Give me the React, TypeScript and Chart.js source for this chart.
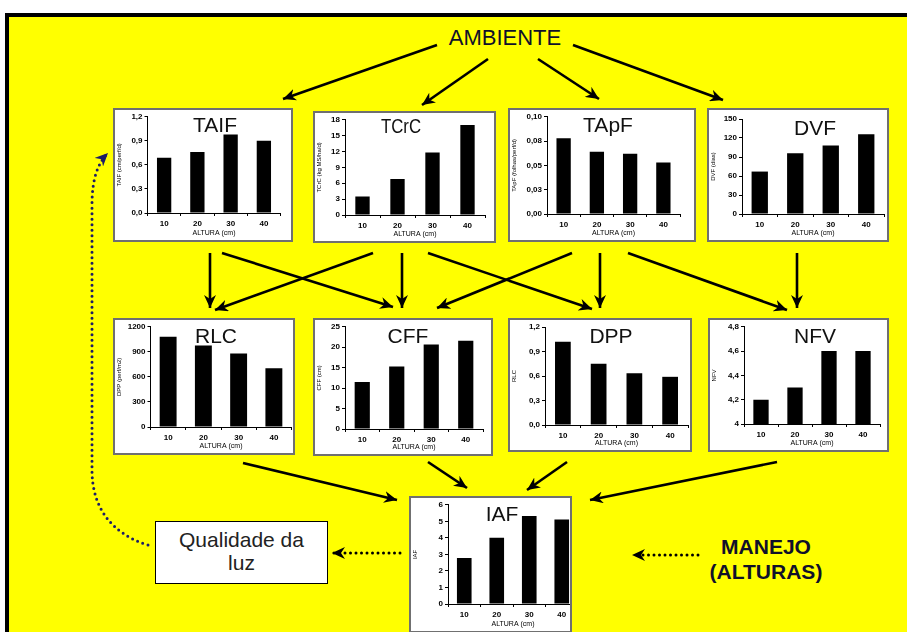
import React, { useEffect, useRef } from "react";
import { Chart, registerables } from "chart.js";
Chart.register(...registerables);

// ---------- data ----------
const alturas = ["10", "20", "30", "40"];
const taifValues = [0.69, 0.76, 0.98, 0.9];
const tcrcValues = [3.5, 6.8, 11.8, 17.0];
const tapfValues = [0.078, 0.064, 0.062, 0.053];
const dvfValues = [67, 96, 108, 126];
const rlcValues = [1080, 975, 880, 705];
const cffValues = [11.5, 15.3, 20.7, 21.6];
const dppValues = [1.02, 0.75, 0.635, 0.59];
const nfvValues = [4.2, 4.3, 4.6, 4.6];
const iafValues = [2.78, 4.01, 5.33, 5.11];

const xAxisTitle = "ALTURA (cm)";
const FONT = "'Liberation Sans', Arial, Helvetica, sans-serif";

type Spec = {
  title: string;
  yTitle: string;
  values: number[];
  min: number;
  max: number;
  step: number;
  dec: number | null;
  box: [number, number, number, number];
  plot: [number, number, number, number];
  bar: number;
  tx: number;
  tcap: number;
  tscale?: number;
  extraW?: number;
};

const specs: Spec[] = [
  { title: "TAIF", yTitle: "TAIF (cm/perf/d)", values: taifValues, min: 0, max: 1.2, step: 0.3, dec: 1,
    box: [113, 108, 180, 134], plot: [147.5, 115, 280.5, 213], bar: 0.43, tx: 215, tcap: 117 },
  { title: "TCrC", yTitle: "TCrC (kg MS/ha/d)", values: tcrcValues, min: 0, max: 18, step: 3, dec: 0,
    box: [313, 111, 183, 132], plot: [345, 118, 485, 215], bar: 0.41, tx: 401, tcap: 118, tscale: 0.8 },
  { title: "TApF", yTitle: "TApF (folhas/perf/d)", values: tapfValues, min: 0, max: 0.1, step: 0.025, dec: 2,
    box: [508, 108, 188, 134], plot: [547, 116, 680, 214], bar: 0.43, tx: 608, tcap: 117 },
  { title: "DVF", yTitle: "DVF (dias)", values: dvfValues, min: 0, max: 150, step: 30, dec: 0,
    box: [707, 108, 182, 134], plot: [742, 119, 884, 214], bar: 0.46, tx: 815, tcap: 120 },
  { title: "RLC", yTitle: "DPP (perf/m2)", values: rlcValues, min: 0, max: 1200, step: 300, dec: 0,
    box: [113, 318, 182, 137], plot: [150.5, 326, 291.5, 427], bar: 0.48, tx: 216, tcap: 328 },
  { title: "CFF", yTitle: "CFF (cm)", values: cffValues, min: 0, max: 25, step: 5, dec: 0,
    box: [313, 318, 180, 138], plot: [345, 326, 483, 429], bar: 0.44, tx: 408, tcap: 328 },
  { title: "DPP", yTitle: "RLC", values: dppValues, min: 0, max: 1.2, step: 0.3, dec: 1,
    box: [508, 318, 184, 134], plot: [545, 327, 688, 425], bar: 0.44, tx: 611, tcap: 328 },
  { title: "NFV", yTitle: "NFV", values: nfvValues, min: 4, max: 4.8, step: 0.2, dec: null,
    box: [708, 318, 181, 134], plot: [744, 323, 880, 424], bar: 0.45, tx: 815, tcap: 328 },
  { title: "IAF", yTitle: "IAF", values: iafValues, min: 0, max: 6, step: 1, dec: 0,
    box: [409, 496, 163, 137], plot: [448, 503, 578, 604], bar: 0.45, tx: 502, tcap: 506, extraW: 8 },
];

function fmt(v: number, dec: number | null) {
  let s: string;
  if (dec === null) s = String(Math.round(v * 10 + 1e-9) / 10);
  else {
    const p = Math.pow(10, dec);
    s = (Math.round(v * p + 1e-9) / p).toFixed(dec);
  }
  return s.replace(".", ",");
}

const BORDER = 2;

function Panel({ spec }: { spec: Spec }) {
  const ref = useRef<HTMLCanvasElement | null>(null);
  const [bx, by, bw, bh] = spec.box;
  const [pl, pt, pr, pb] = spec.plot;
  const innerL = bx + BORDER;
  const innerT = by + BORDER;
  const cw = Math.max(bw - 2 * BORDER, Math.ceil(pr - innerL + (spec.extraW || 0)));
  const ch = bh - 2 * BORDER;
  const yW = pl - innerL;
  const padTop = pt - innerT;
  const padRight = cw - (pr - innerL);
  const xH = ch - (pb - innerT);

  useEffect(() => {
    const c = ref.current;
    if (!c) return;
    const chart = new Chart(c, {
      type: "bar",
      data: {
        labels: alturas,
        datasets: [
          {
            data: spec.values,
            backgroundColor: "#000",
            borderWidth: 0,
            barPercentage: spec.bar,
            categoryPercentage: 1,
          },
        ],
      },
      options: {
        animation: false,
        responsive: false,
        devicePixelRatio: 1,
        layout: { padding: { left: 0, top: padTop, right: padRight, bottom: 0 } },
        plugins: { legend: { display: false }, tooltip: { enabled: false }, title: { display: false } },
        scales: {
          x: {
            grid: { display: true, drawOnChartArea: false, drawTicks: true, tickLength: 3, color: "#000", offset: true },
            border: { display: true, color: "#000", width: 1 },
            ticks: { color: "#000", font: { family: FONT, size: 8, weight: "bold" }, padding: 3, maxRotation: 0 },
            title: {
              display: true,
              text: xAxisTitle,
              color: "#000",
              font: { family: FONT, size: 7 },
              padding: { top: 0, bottom: 3 },
            },
            afterFit: (s: any) => {
              s.height = xH;
            },
          },
          y: {
            min: spec.min,
            max: spec.max,
            grid: { display: true, drawOnChartArea: false, drawTicks: true, tickLength: 3, color: "#000" },
            border: { display: true, color: "#000", width: 1 },
            ticks: {
              stepSize: spec.step,
              color: "#000",
              font: { family: FONT, size: 8, weight: "bold" },
              padding: 2,
              callback: (v: any) => fmt(Number(v), spec.dec),
            },
            title: {
              display: true,
              text: spec.yTitle,
              color: "#000",
              font: { family: FONT, size: 6 },
              padding: { top: 1, bottom: 1 },
            },
            afterFit: (s: any) => {
              s.width = yW;
            },
          },
        },
      } as any,
    });
    return () => chart.destroy();
  }, []);

  return (
    <div
      style={{
        position: "absolute",
        left: bx,
        top: by,
        width: bw,
        height: bh,
        background: "#fff",
        border: `${BORDER}px solid #707070`,
        boxSizing: "border-box",
        overflow: "hidden",
      }}
    >
      <canvas ref={ref} width={cw} height={ch} style={{ position: "absolute", left: 0, top: 0, display: "block" }} />
    </div>
  );
}

function PanelTitle({ spec }: { spec: Spec }) {
  const size = 21;
  return (
    <div
      style={{
        position: "absolute",
        left: spec.tx,
        top: spec.tcap - 0.13 * size,
        transform: `translateX(-50%) scaleX(${spec.tscale || 1})`,
        fontFamily: FONT,
        fontSize: size,
        lineHeight: 1,
        color: "#111",
        whiteSpace: "nowrap",
        pointerEvents: "none",
      }}
    >
      {spec.title}
    </div>
  );
}

const solidArrows: [number, number, number, number][] = [
  [437, 45, 283, 99],
  [488, 59, 422, 105],
  [538, 59, 599, 99],
  [573, 45, 723, 100],
  [210, 253, 210, 308],
  [222, 253, 393, 307],
  [373, 253, 215, 310],
  [402, 253, 402, 308],
  [428, 253, 592, 309],
  [572, 253, 437, 308],
  [600, 253, 600, 308],
  [628, 253, 787, 310],
  [797, 253, 797, 308],
  [243, 463, 397, 500],
  [428, 462, 467, 488],
  [567, 462, 527, 490],
  [777, 462, 590, 500],
];

function Arrows() {
  return (
    <svg width={907} height={632} style={{ position: "absolute", left: 0, top: 0, pointerEvents: "none" }}>
      <defs>
        <marker id="ah" markerUnits="userSpaceOnUse" markerWidth={14} markerHeight={12} refX={13} refY={6} orient="auto">
          <path d="M0,0 L13,6 L0,12 L4,6 Z" fill="#000" />
        </marker>
        <marker id="ahb" markerUnits="userSpaceOnUse" markerWidth={14} markerHeight={12} refX={13} refY={6} orient="auto">
          <path d="M0,0 L13,6 L0,12 L4,6 Z" fill="#1c1c66" />
        </marker>
      </defs>
      {solidArrows.map((a, i) => (
        <line key={i} x1={a[0]} y1={a[1]} x2={a[2]} y2={a[3]} stroke="#000" strokeWidth={2.6} markerEnd="url(#ah)" />
      ))}
      <path
        d="M400,553 L332,553"
        stroke="#000"
        strokeWidth={3}
        strokeLinecap="round"
        strokeDasharray="0 5.5"
        fill="none"
        markerEnd="url(#ah)"
      />
      <path
        d="M698,555 L632,555"
        stroke="#000"
        strokeWidth={3}
        strokeLinecap="round"
        strokeDasharray="0 5.5"
        fill="none"
        markerEnd="url(#ah)"
      />
      <path
        d="M148,545 C112,534 92,508 92,470 L92,205 C92,178 98,163 108,153"
        stroke="#1c1c66"
        strokeWidth={3}
        strokeLinecap="round"
        strokeDasharray="0 5.5"
        fill="none"
        markerEnd="url(#ahb)"
      />
    </svg>
  );
}

export default function App() {
  return (
    <div
      style={{
        position: "absolute",
        left: 0,
        top: 0,
        width: 907,
        height: 632,
        background: "#fff",
        overflow: "hidden",
        fontFamily: FONT,
      }}
    >
      <div
        style={{
          position: "absolute",
          left: 5,
          top: 13,
          width: 910,
          height: 630,
          background: "#ffff00",
          borderLeft: "4px solid #000",
          borderTop: "4px solid #000",
          boxSizing: "border-box",
        }}
      />
      {specs.map((s) => (
        <Panel key={s.title} spec={s} />
      ))}
      {specs.map((s) => (
        <PanelTitle key={"t" + s.title} spec={s} />
      ))}
      <div
        style={{
          position: "absolute",
          left: 505,
          top: 30 - 0.13 * 22,
          transform: "translateX(-50%)",
          fontSize: 22,
          lineHeight: 1,
          color: "#10102a",
          whiteSpace: "nowrap",
        }}
      >
        AMBIENTE
      </div>
      <div
        style={{
          position: "absolute",
          left: 155,
          top: 521,
          width: 173,
          height: 63,
          background: "#fff",
          border: "1px solid #000",
          boxSizing: "border-box",
        }}
      />
      <div
        style={{
          position: "absolute",
          left: 155,
          top: 528,
          width: 173,
          textAlign: "center",
          fontSize: 21,
          lineHeight: "23px",
          color: "#222",
        }}
      >
        Qualidade da
        <br />
        luz
      </div>
      <div
        style={{
          position: "absolute",
          left: 766,
          top: 534,
          transform: "translateX(-50%)",
          textAlign: "center",
          fontSize: 21,
          fontWeight: "bold",
          lineHeight: "25px",
          color: "#10102a",
          whiteSpace: "nowrap",
        }}
      >
        MANEJO
        <br />
        (ALTURAS)
      </div>
      <Arrows />
    </div>
  );
}
